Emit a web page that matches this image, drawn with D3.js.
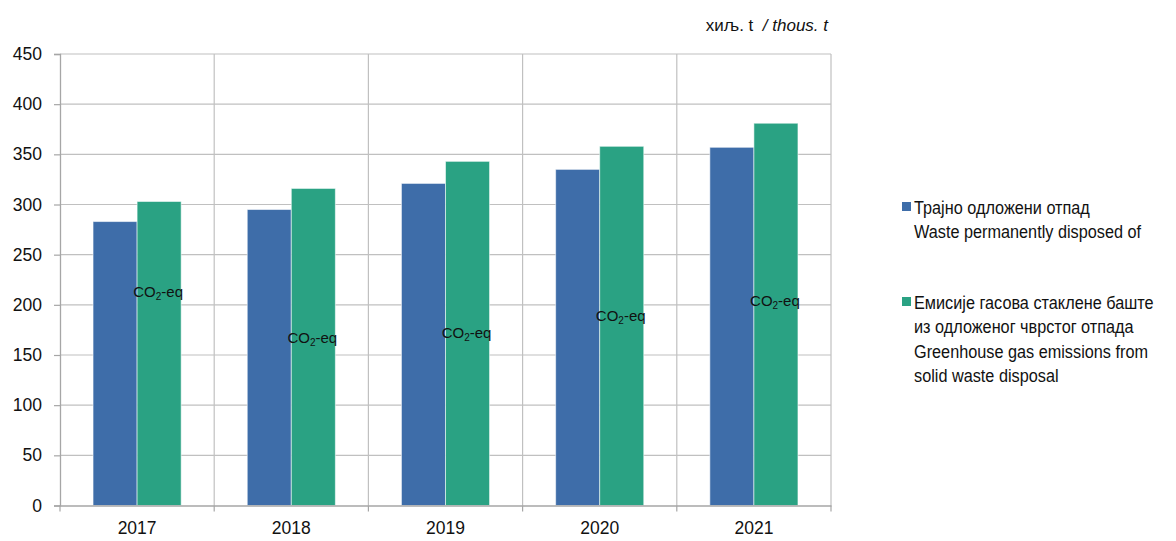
<!DOCTYPE html>
<html>
<head>
<meta charset="utf-8">
<script src="https://cdn.jsdelivr.net/npm/d3@7"></script>
<style>
  body { margin: 0; background: #fff; }
  svg { display: block; font-family: "Liberation Sans", Arial, sans-serif; }
</style>
</head>
<body>
<script>
// data (thousand tonnes)
const years = ["2017", "2018", "2019", "2020", "2021"];
const wasteDisposed = [283, 295, 321, 335, 357];
const ghgEmissions = [303, 316, 343, 358, 381];
// height (in value units) where each CO2-eq note sits on the green bar
const co2LabelAt = [208, 162, 167, 184, 199];
const yTicks = [0, 50, 100, 150, 200, 250, 300, 350, 400, 450];

const seriesNames = [
  ["Трајно одложени отпад", "Waste permanently disposed of"],
  ["Емисије гасова стаклене баште", "из одложеног чврстог отпада",
   "Greenhouse gas emissions from", "solid waste disposal"]
];
const colors = ["#3e6da9", "#2aa283"];

const width = 1176, height = 541;
const margin = { left: 60, right: 345, top: 54, bottom: 35.5 };
const plotW = width - margin.left - margin.right;
const plotH = height - margin.top - margin.bottom;

const svg = d3.select("body").append("svg")
  .attr("width", width)
  .attr("height", height);

const x = d3.scaleBand().domain(years).range([0, plotW]);
const x1 = d3.scaleBand().domain([0, 1]).range([0, x.bandwidth()])
  .paddingInner(0).paddingOuter(0.75);
const y = d3.scaleLinear().domain([0, 450]).range([plotH, 0]);

const g = svg.append("g")
  .attr("transform", "translate(" + margin.left + "," + margin.top + ")");

// horizontal grid
g.append("g").selectAll("line")
  .data(yTicks.slice(1))
  .enter().append("line")
  .attr("x1", 0).attr("x2", plotW)
  .attr("y1", d => y(d)).attr("y2", d => y(d))
  .attr("stroke", "#c0c0c0").attr("stroke-width", 1.2);

// vertical grid between categories
g.append("g").selectAll("line")
  .data(years.slice(1).concat(["end"]))
  .enter().append("line")
  .attr("x1", (d, i) => i < years.length - 1 ? x(d) : plotW)
  .attr("x2", (d, i) => i < years.length - 1 ? x(d) : plotW)
  .attr("y1", 0).attr("y2", plotH)
  .attr("stroke", "#c0c0c0").attr("stroke-width", 1.2);

// bars
const rows = years.map((yr, i) => ({ year: yr, vals: [wasteDisposed[i], ghgEmissions[i]], lab: co2LabelAt[i] }));
const groups = g.selectAll(".yr")
  .data(rows)
  .enter().append("g")
  .attr("class", "yr")
  .attr("transform", d => "translate(" + x(d.year) + ",0)");

groups.selectAll("rect")
  .data(d => d.vals.map((v, k) => ({ k: k, v: v })))
  .enter().append("rect")
  .attr("x", d => x1(d.k))
  .attr("width", x1.bandwidth())
  .attr("y", d => y(d.v))
  .attr("height", d => plotH - y(d.v))
  .attr("fill", d => colors[d.k])
  .attr("stroke", "rgba(255,255,255,0.55)")
  .attr("stroke-width", 1);

// CO2-eq notes
const note = groups.append("text")
  .attr("x", x1(1) + x1.bandwidth() / 2 - 1)
  .attr("y", d => y(d.lab))
  .attr("text-anchor", "middle")
  .style("font-size", "15px")
  .attr("fill", "#111");
note.append("tspan").text("CO");
note.append("tspan").text("2").style("font-size", "10px").attr("dy", "3");
note.append("tspan").text("-eq").attr("dy", "-3");

// y axis
const yAxis = d3.axisLeft(y).tickValues(yTicks).tickSize(6).tickPadding(12);
const ya = g.append("g").call(yAxis);
ya.select(".domain").attr("stroke", "#a6a6a6").attr("stroke-width", 1.3);
ya.selectAll(".tick line").attr("stroke", "#a6a6a6").attr("stroke-width", 1.2);
ya.selectAll("text").style("font-size", "17.5px").attr("fill", "#111");

// x axis
const xa = g.append("g").attr("transform", "translate(0," + plotH + ")")
  .call(d3.axisBottom(x).tickSize(0).tickPadding(16));
xa.select(".domain").attr("stroke", "#a6a6a6").attr("stroke-width", 1.3);
xa.selectAll("text").style("font-size", "17.5px").attr("fill", "#111");
xa.selectAll(".bound")
  .data(years.map(d => x(d)).concat([plotW]))
  .enter().append("line")
  .attr("class", "bound")
  .attr("x1", d => d).attr("x2", d => d)
  .attr("y1", 0).attr("y2", 6)
  .attr("stroke", "#a6a6a6").attr("stroke-width", 1.2);

// unit label
const unit = svg.append("text")
  .attr("x", 828).attr("y", 31)
  .attr("text-anchor", "end")
  .style("font-size", "17px")
  .attr("fill", "#111");
unit.append("tspan").text("хиљ. t  ").attr("xml:space", "preserve");
unit.append("tspan").text("/ thous. t").style("font-style", "italic");

// legend
const legendTop = [214, 309];
const legend = svg.append("g");
seriesNames.forEach((lines, k) => {
  legend.append("rect")
    .attr("x", 902).attr("y", legendTop[k] - 12)
    .attr("width", 9).attr("height", 9)
    .attr("fill", colors[k]);
  const t = legend.append("g")
    .attr("transform", "translate(914," + legendTop[k] + ") scale(0.93,1)");
  lines.forEach((line, j) => {
    t.append("text")
      .attr("x", 0).attr("y", j * 24.5)
      .style("font-size", "17.5px")
      .attr("fill", "#111")
      .text(line);
  });
});
</script>
</body>
</html>
